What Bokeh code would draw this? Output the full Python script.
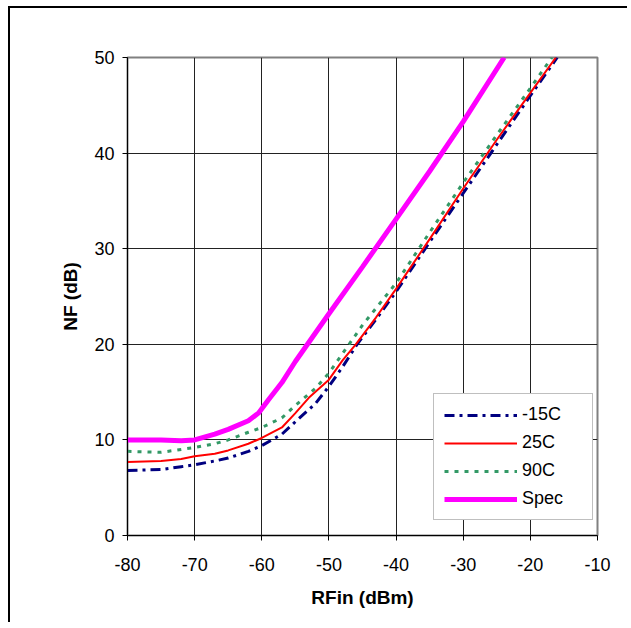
from bokeh.plotting import figure
from bokeh.models import Legend, LegendItem, FixedTicker, CustomJSTickFormatter
from bokeh.embed import file_html
from bokeh.resources import INLINE

# ---- data ----
rf_m15 = [-80, -75, -72, -70, -67, -65, -62, -60, -57, -55, -52, -50, -48, -45.8, -43, -40, -35, -30, -25, -20, -16.0]
nf_m15 = [6.8, 6.9, 7.2, 7.4, 7.8, 8.1, 8.8, 9.4, 10.6, 11.9, 13.8, 15.6, 17.6, 20.0, 22.6, 25.5, 30.7, 35.8, 40.9, 46.0, 50.0]

rf_25 = [-80, -75, -72, -70, -67, -65, -62, -60, -57, -55, -53, -50, -48, -46, -43, -40, -35, -30, -25, -20, -16.2]
nf_25 = [7.7, 7.8, 8.0, 8.3, 8.55, 8.9, 9.6, 10.2, 11.3, 12.8, 14.4, 16.3, 18.3, 20.0, 22.8, 25.8, 31.0, 36.3, 41.4, 46.3, 50.0]

rf_90 = [-80, -75, -72, -70, -67, -65, -62, -60, -57, -55, -52, -50, -47, -45, -40, -35, -30, -25, -20, -16.8]
nf_90 = [8.8, 8.7, 9.0, 9.2, 9.6, 10.0, 10.8, 11.3, 12.3, 13.6, 15.4, 17.0, 20.0, 22.0, 26.4, 31.7, 36.9, 41.9, 46.8, 50.0]

rf_spec = [-80, -75, -72, -70, -67, -65, -62, -60.5, -59, -57, -55, -50, -45, -40, -35, -30, -23.9]
nf_spec = [10.0, 10.0, 9.9, 10.0, 10.6, 11.1, 12.0, 12.8, 14.2, 16.0, 18.2, 23.2, 28.1, 33.1, 38.1, 43.3, 50.0]

x_ticks = [-80, -70, -60, -50, -40, -30, -20, -10]
y_ticks = [0, 10, 20, 30, 40, 50]

FONT = "Liberation Sans"

p = figure(width=619, height=616, x_range=(-80, -10), y_range=(0, 50),
           output_backend="svg", toolbar_location=None,
           min_border_left=117, min_border_right=32,
           min_border_top=49, min_border_bottom=89)
p.margin = (6, 0, 0, 8)
p.styles = {"border-left": "2px solid black", "border-top": "2px solid black"}

p.background_fill_color = "white"
p.border_fill_color = "white"
p.outline_line_color = "#808080"
p.outline_line_width = 2

for ax in (p.xaxis[0], p.yaxis[0]):
    ax.major_label_text_font = FONT
    ax.major_label_text_font_size = "18px"
    ax.major_label_text_color = "black"
    ax.axis_label_text_font = FONT
    ax.axis_label_text_font_size = "19px"
    ax.axis_label_text_font_style = "bold"
    ax.axis_label_text_color = "black"
    ax.axis_line_color = "black"
    ax.axis_line_width = 1
    ax.major_tick_line_color = "black"
    ax.major_tick_in = 0
    ax.major_tick_out = 5
    ax.minor_tick_line_color = None
    ax.formatter = CustomJSTickFormatter(code="return tick.toString();")

p.xaxis.ticker = FixedTicker(ticks=x_ticks)
p.yaxis.ticker = FixedTicker(ticks=y_ticks)
p.xaxis.axis_label = "RFin (dBm)"
p.yaxis.axis_label = "NF (dB)"
p.xaxis.major_label_standoff = 17
p.yaxis.major_label_standoff = 8
p.xaxis.axis_label_standoff = 13
p.yaxis.axis_label_standoff = 10

p.xgrid.ticker = FixedTicker(ticks=x_ticks)
p.ygrid.ticker = FixedTicker(ticks=y_ticks)
p.grid.grid_line_color = "#222222"
p.grid.grid_line_width = 1

r1 = p.line(rf_m15, nf_m15, line_color="#000080", line_width=3, line_dash="10 5 3 5")
r2 = p.line(rf_25, nf_25, line_color="#FF0000", line_width=2)
r3 = p.line(rf_90, nf_90, line_color="#339966", line_width=3, line_dash="4 6")
r4 = p.line(rf_spec, nf_spec, line_color="#FF00FF", line_width=5)

legend = Legend(items=[LegendItem(label="-15C", renderers=[r1]),
                       LegendItem(label="25C", renderers=[r2]),
                       LegendItem(label="90C", renderers=[r3]),
                       LegendItem(label="Spec", renderers=[r4])],
                location=(306, 15))
legend.label_text_font = FONT
legend.label_text_font_size = "18px"
legend.label_text_color = "black"
legend.glyph_width = 73
legend.glyph_height = 20
legend.label_height = 20
legend.label_width = 60
legend.label_standoff = 5
legend.padding = 10
legend.spacing = 7
legend.margin = 0
legend.border_line_color = "#808080"
legend.border_line_width = 1
legend.background_fill_color = "white"
legend.background_fill_alpha = 1
p.add_layout(legend)

open("out.html", "w").write(file_html(p, INLINE))
